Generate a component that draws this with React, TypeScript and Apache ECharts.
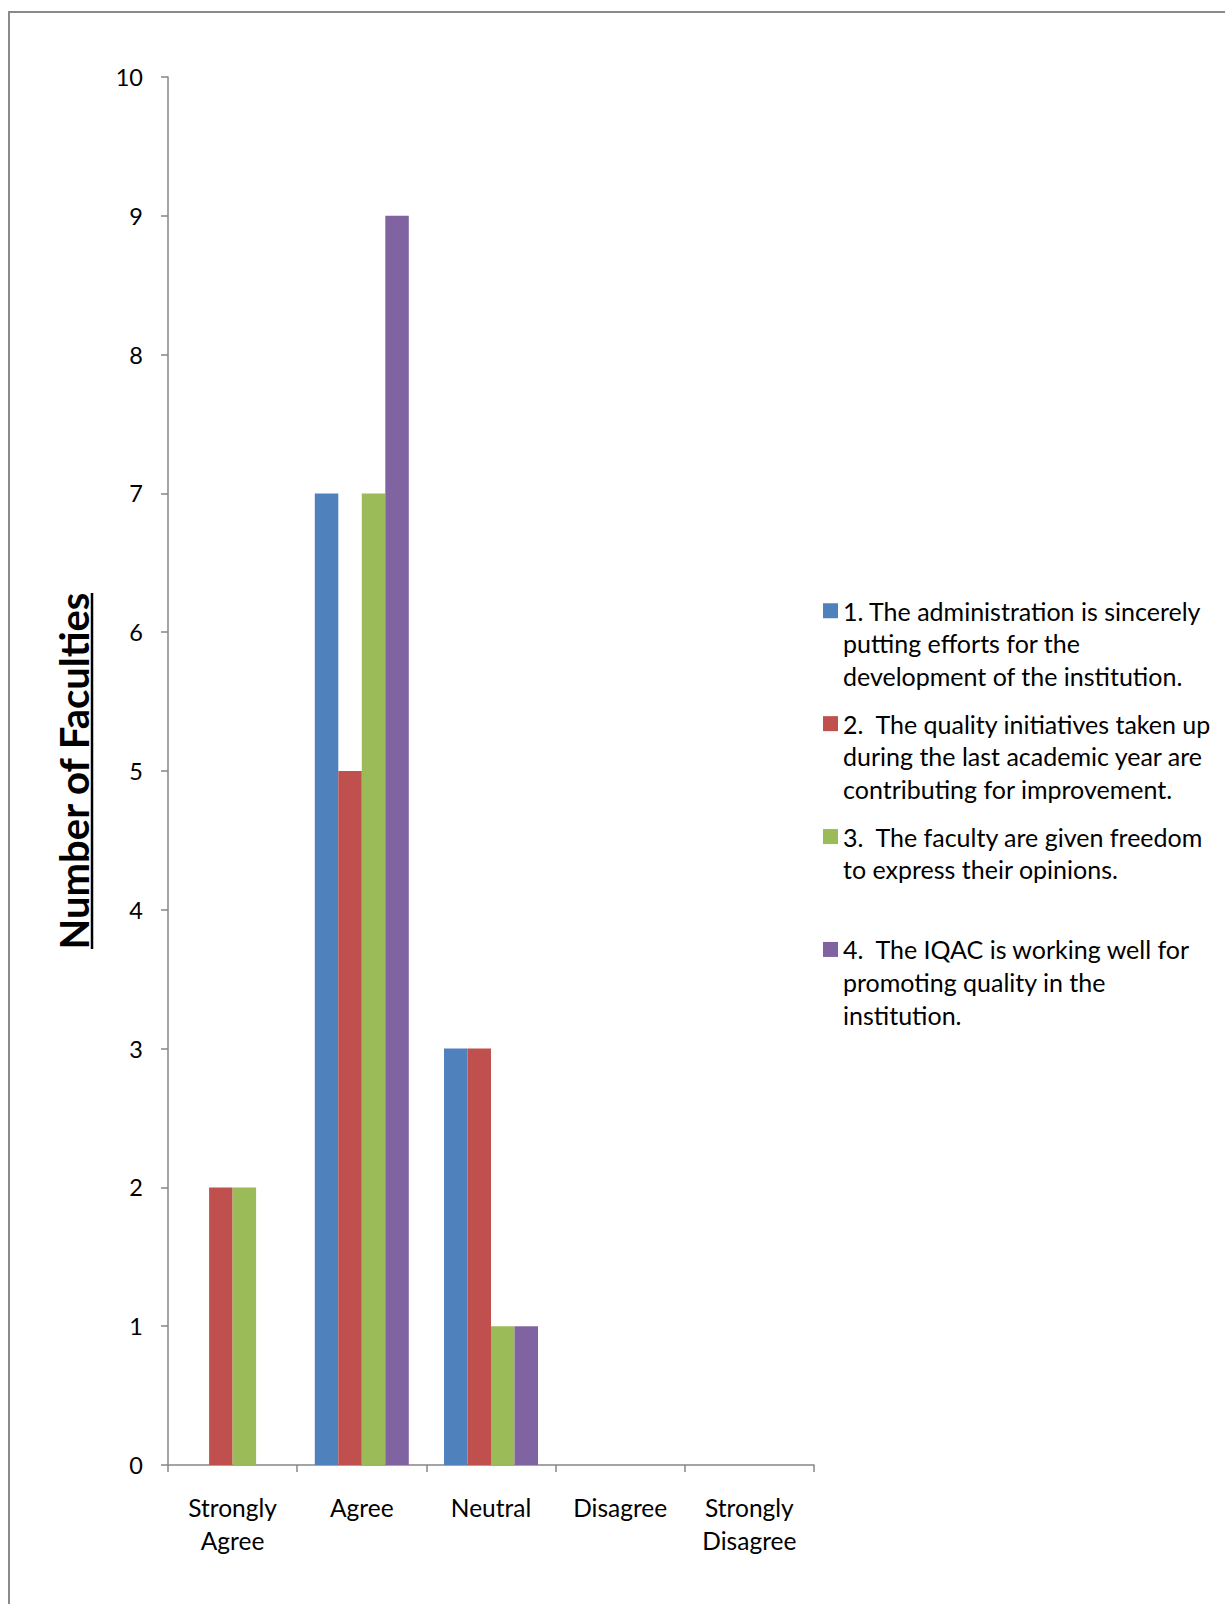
import React, { useEffect, useRef } from "react";
import * as echarts from "echarts";

const categories = ["Strongly\nAgree", "Agree", "Neutral", "Disagree", "Strongly\nDisagree"];
const seriesNames = [
  "1. The administration is sincerely\nputting efforts for the\ndevelopment of the institution.",
  "2.  The quality initiatives taken up\nduring the last academic year are\ncontributing for improvement.",
  "3.  The faculty are given freedom\nto express their opinions.",
  "4.  The IQAC is working well for\npromoting quality in the\ninstitution.",
];
const seriesColors = ["#4F81BD", "#C0504D", "#9BBB59", "#8064A2"];
const values1 = [0, 7, 3, 0, 0];
const values2 = [2, 5, 3, 0, 0];
const values3 = [2, 7, 1, 0, 0];
const values4 = [0, 9, 1, 0, 0];
const seriesValues = [values1, values2, values3, values4];
const yTitle = "Number of Faculties";

const FONT = "Lato";

export default function App() {
  const ref = useRef<HTMLDivElement>(null);
  useEffect(() => {
    if (!ref.current) return;
    const chart = echarts.init(ref.current, null, { renderer: "svg" });
    chart.setOption({
      animation: false,
      backgroundColor: "#ffffff",
      grid: { left: 168, top: 77, width: 646, height: 1388, containLabel: false },
      xAxis: {
        type: "category",
        data: categories,
        axisLine: { lineStyle: { color: "#868686", width: 1.5 } },
        axisTick: { show: true, length: 7, lineStyle: { color: "#868686", width: 1.5 } },
        axisLabel: { color: "#000", fontFamily: FONT, fontSize: 24.5, lineHeight: 33, margin: 26, interval: 0 },
        splitLine: { show: false },
      },
      yAxis: {
        type: "value",
        min: 0,
        max: 10,
        interval: 1,
        name: yTitle,
        nameLocation: "middle",
        nameRotate: 90,
        nameGap: 74,
        nameTextStyle: { color: "#000", fontFamily: FONT, fontSize: 40, fontWeight: "bold" },
        axisLine: { show: true, lineStyle: { color: "#868686", width: 1.5 } },
        axisTick: { show: true, length: 7, lineStyle: { color: "#868686", width: 1.5 } },
        axisLabel: { color: "#000", fontFamily: FONT, fontSize: 23.5, margin: 25 },
        splitLine: { show: false },
      },
      legend: {
        orient: "vertical",
        left: 823,
        top: 529,
        padding: 0,
        itemGap: -50.6,
        itemWidth: 15,
        itemHeight: 15,
        icon: "rect",
        selectedMode: false,
        data: seriesNames,
        textStyle: { color: "#000", fontFamily: FONT, fontSize: 25, lineHeight: 32.7 },
        formatter: (name: string) => {
          const lines = name.split("\n");
          while (lines.length < 3) lines.push("");
          return ["", "", ...lines].join("\n");
        },
      },
      graphic: [
        {
          type: "rect",
          shape: { x: 9, y: 12, width: 1400, height: 1800 },
          style: { fill: "none", stroke: "#8a8a8a", lineWidth: 2 },
          silent: true,
        },
        {
          type: "line",
          shape: { x1: 92, y1: 593, x2: 92, y2: 949 },
          style: { stroke: "#000", lineWidth: 2.5 },
          silent: true,
        },
      ],
      series: seriesNames.map((name, i) => ({
        name,
        type: "bar",
        data: seriesValues[i],
        barWidth: 23.5,
        barGap: "0%",
        itemStyle: { color: seriesColors[i] },
      })),
    });
    return () => chart.dispose();
  }, []);
  return (
    <div
      ref={ref}
      style={{ position: "absolute", left: 0, top: 0, width: 1225, height: 1604 }}
    />
  );
}
